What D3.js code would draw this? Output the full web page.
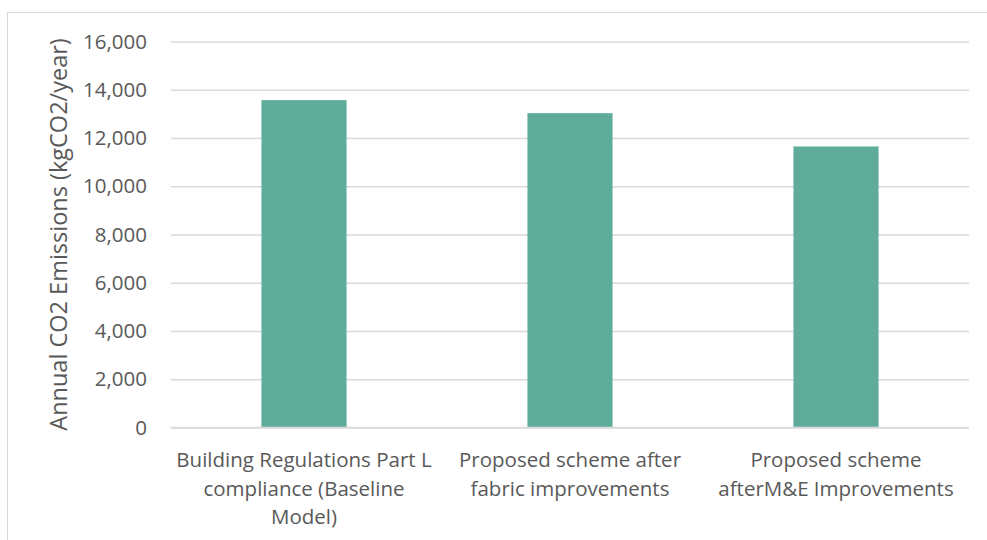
<!DOCTYPE html>
<html>
<head>
<meta charset="utf-8">
<script src="https://cdn.jsdelivr.net/npm/d3@7"></script>
<style>
  body { margin: 0; background: #fff; }
  text { font-family: "Open Sans", "Noto Sans", sans-serif; fill: #595959; }
</style>
</head>
<body>
<svg id="chart" width="987" height="540"></svg>
<script>
// data
const categories = [
  "Building Regulations Part L\ncompliance (Baseline\nModel)",
  "Proposed scheme after\nfabric improvements",
  "Proposed scheme\nafterM&E Improvements",
];
const emissions = [13570, 13030, 11650];
const yTicks = [0, 2000, 4000, 6000, 8000, 10000, 12000, 14000, 16000];
const yTitle = "Annual CO2 Emissions (kgCO2/year)";

const width = 987;
const height = 540;
const plot = { left: 171, right: 969, top: 41.5, bottom: 427.5 };

const svg = d3.select("svg#chart");

// chart area border (cropped at right/bottom like the original)
svg
  .append("rect")
  .attr("x", 7.5)
  .attr("y", 12.5)
  .attr("width", width + 10)
  .attr("height", height + 10)
  .style("fill", "none")
  .style("stroke", "#d9d9d9")
  .style("stroke-width", 1);

const x = d3
  .scaleBand()
  .domain(categories)
  .range([plot.left, plot.right])
  .paddingInner(0.68)
  .paddingOuter(0.34);

const y = d3.scaleLinear().domain([0, 16000]).range([plot.bottom, plot.top]);

// gridlines + tick labels
const yAxis = svg
  .append("g")
  .attr("transform", `translate(${plot.left},0)`)
  .call(
    d3
      .axisLeft(y)
      .tickValues(yTicks)
      .tickSize(-(plot.right - plot.left))
      .tickPadding(24)
      .tickFormat(d3.format(","))
  );
yAxis.select(".domain").remove();
yAxis
  .selectAll(".tick line")
  .style("stroke", "#d9d9d9")
  .style("stroke-width", 1.5);
yAxis
  .selectAll(".tick text")
  .style("font-size", "20.5px")
  .style("fill", "#595959");

// bars
svg
  .selectAll("rect.bar")
  .data(emissions)
  .join("rect")
  .attr("class", "bar")
  .attr("x", (d, i) => x(categories[i]))
  .attr("y", (d) => y(d))
  .attr("width", x.bandwidth())
  .attr("height", (d) => y(0) - y(d))
  .style("fill", "#5fac9b");

// baseline
svg
  .append("line")
  .attr("x1", plot.left)
  .attr("x2", plot.right)
  .attr("y1", y(0))
  .attr("y2", y(0))
  .style("stroke", "#d9d9d9")
  .style("stroke-width", 1.5);

// category labels
const labels = svg
  .selectAll("text.cat")
  .data(categories)
  .join("text")
  .attr("class", "cat")
  .attr("text-anchor", "middle")
  .attr("x", (d) => x(d) + x.bandwidth() / 2)
  .attr("y", 467)
  .style("font-size", "20.5px");

labels
  .selectAll("tspan")
  .data((d) => d.split("\n").map((line) => ({ line, cx: x(d) + x.bandwidth() / 2 })))
  .join("tspan")
  .attr("x", (d) => d.cx)
  .attr("dy", (d, i) => (i === 0 ? 0 : 28.5))
  .text((d) => d.line);

// y axis title
svg
  .append("text")
  .attr("transform", `translate(67,${(plot.top + plot.bottom) / 2}) rotate(-90)`)
  .attr("text-anchor", "middle")
  .style("font-size", "23.5px")
  .text(yTitle);
</script>
</body>
</html>
